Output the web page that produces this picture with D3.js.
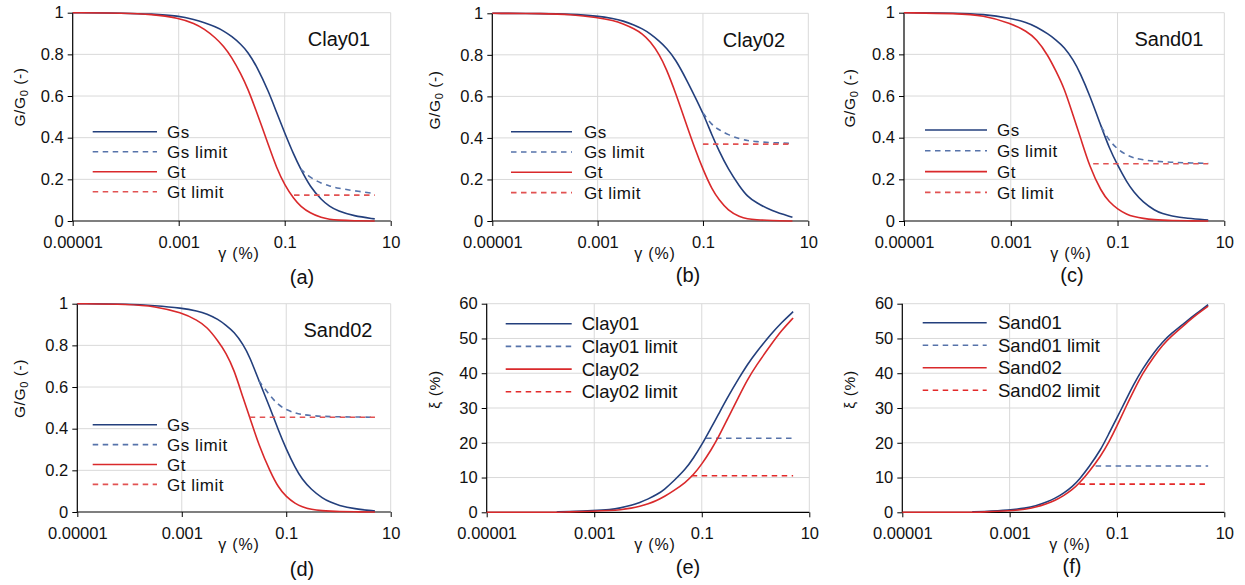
<!DOCTYPE html>
<html>
<head>
<meta charset="utf-8">
<script src="https://cdn.jsdelivr.net/npm/d3@7"></script>
<style>
  html, body { margin: 0; padding: 0; background: #fff; }
  svg { display: block; }
  text { font-family: "Liberation Sans", Arial, sans-serif; fill: #111; }
</style>
</head>
<body>
<svg id="chart" width="1245" height="585"></svg>
<script>
// ---------------- DATA ----------------
// shear strain (%) grid used for the G/G0 curves
const gammaG = [0.00001, 0.0001, 0.0003, 0.001, 0.002, 0.003, 0.005, 0.007, 0.01, 0.015, 0.02, 0.03, 0.05, 0.07, 0.1, 0.15, 0.2, 0.3, 0.5, 0.7, 1, 2, 5];

const clay01Gs = [1.0, 0.998, 0.994, 0.985, 0.967, 0.953, 0.932, 0.913, 0.887, 0.848, 0.813, 0.741, 0.62, 0.522, 0.423, 0.315, 0.25, 0.165, 0.1, 0.07, 0.048, 0.024, 0.01];
const clay01Gt = [1.0, 0.998, 0.993, 0.975, 0.948, 0.923, 0.879, 0.84, 0.787, 0.705, 0.638, 0.519, 0.361, 0.256, 0.172, 0.105, 0.07, 0.038, 0.015, 0.008, 0.004, 0.001, 0.0];
const clay01GsLimX = [0.2, 0.3, 0.5, 0.7, 1, 2, 5];
const clay01GsLim  = [0.25, 0.208, 0.18, 0.168, 0.158, 0.145, 0.132];
const clay01GtLimX = [0.15, 5];
const clay01GtLim  = [0.124, 0.124];

const clay02Gs = [1.0, 0.999, 0.996, 0.987, 0.975, 0.964, 0.943, 0.926, 0.902, 0.865, 0.835, 0.78, 0.675, 0.60, 0.52, 0.41, 0.34, 0.25, 0.165, 0.118, 0.09, 0.048, 0.018];
const clay02Gt = [1.0, 0.999, 0.995, 0.98, 0.965, 0.95, 0.925, 0.902, 0.865, 0.80, 0.735, 0.62, 0.455, 0.35, 0.248, 0.15, 0.104, 0.05, 0.02, 0.01, 0.006, 0.002, 0.0];
const clay02GsLimX = [0.1, 0.15, 0.2, 0.3, 0.5, 0.7, 1, 2, 5];
const clay02GsLim  = [0.52, 0.46, 0.44, 0.415, 0.395, 0.387, 0.382, 0.377, 0.374];
const clay02GtLimX = [0.1, 5];
const clay02GtLim  = [0.37, 0.37];

const sand01Gs = [1.0, 0.998, 0.993, 0.974, 0.953, 0.933, 0.898, 0.87, 0.835, 0.772, 0.71, 0.605, 0.45, 0.35, 0.268, 0.185, 0.14, 0.09, 0.05, 0.035, 0.024, 0.012, 0.005];
const sand01Gt = [1.0, 0.996, 0.988, 0.95, 0.91, 0.875, 0.795, 0.72, 0.64, 0.50, 0.405, 0.26, 0.139, 0.091, 0.057, 0.031, 0.021, 0.012, 0.006, 0.004, 0.002, 0.001, 0.0];
const sand01GsLimX = [0.05, 0.07, 0.1, 0.15, 0.2, 0.3, 0.5, 1, 2, 5];
const sand01GsLim  = [0.45, 0.385, 0.345, 0.315, 0.303, 0.293, 0.287, 0.282, 0.279, 0.277];
const sand01GtLimX = [0.035, 5];
const sand01GtLim  = [0.275, 0.275];

const sand02Gs = [1.0, 0.998, 0.991, 0.979, 0.965, 0.952, 0.925, 0.897, 0.865, 0.805, 0.745, 0.63, 0.495, 0.395, 0.302, 0.21, 0.158, 0.108, 0.065, 0.047, 0.032, 0.015, 0.005];
const sand02Gt = [1.0, 0.997, 0.988, 0.957, 0.92, 0.89, 0.82, 0.765, 0.685, 0.545, 0.455, 0.32, 0.19, 0.12, 0.072, 0.04, 0.025, 0.012, 0.006, 0.004, 0.002, 0.001, 0.0];
const sand02GsLimX = [0.03, 0.05, 0.07, 0.1, 0.15, 0.2, 0.3, 0.5, 1, 2, 5];
const sand02GsLim  = [0.63, 0.555, 0.515, 0.49, 0.475, 0.468, 0.463, 0.459, 0.457, 0.456, 0.455];
const sand02GtLimX = [0.02, 5];
const sand02GtLim  = [0.455, 0.455];

// shear strain (%) grid used for the damping curves
const gammaD = [0.00001, 0.0001, 0.0002, 0.0003, 0.001, 0.002, 0.003, 0.005, 0.007, 0.01, 0.015, 0.02, 0.03, 0.05, 0.07, 0.1, 0.15, 0.2, 0.3, 0.5, 0.7, 1, 2, 3, 5];
const clay01D = [null, null, 0.1, 0.2, 0.5, 0.8, 1.2, 2.0, 2.8, 3.8, 5.2, 6.5, 9.0, 12.4, 15.6, 19.4, 24.4, 27.9, 33.0, 38.8, 42.4, 45.8, 51.5, 54.5, 57.7];
const clay02D = [0, 0, 0, 0.1, 0.3, 0.5, 0.7, 1.2, 1.7, 2.4, 3.5, 4.5, 6.2, 8.6, 10.8, 13.8, 18.0, 21.3, 26.8, 33.6, 38.0, 42.0, 48.5, 52.2, 55.9];
const clay01DLimX = [0.12, 5];
const clay01DLim  = [21.3, 21.3];
const clay02DLimX = [0.065, 5];
const clay02DLim  = [10.5, 10.5];

const sand01D = [null, null, 0.1, 0.2, 0.6, 1.2, 1.8, 3.0, 4.0, 5.4, 7.5, 9.5, 13.0, 18.0, 22.5, 27.2, 32.6, 36.5, 41.3, 46.2, 48.9, 51.3, 55.0, 57.1, 59.7];
const sand02D = [0, 0, 0, 0.1, 0.4, 0.9, 1.4, 2.5, 3.4, 4.7, 6.6, 8.4, 11.6, 16.2, 20.0, 24.8, 30.7, 34.6, 40.0, 45.0, 48.0, 50.5, 54.5, 56.8, 59.3];
const sand01DLimX = [0.04, 5];
const sand01DLim  = [13.3, 13.3];
const sand02DLimX = [0.02, 5];
const sand02DLim  = [8.1, 8.1];

// ticks
const xTicks = [0.00001, 0.001, 0.1, 10];
const xTickLabels = ["0.00001", "0.001", "0.1", "10"];
const gTicks = [0, 0.2, 0.4, 0.6, 0.8, 1];
const gTickLabels = ["0", "0.2", "0.4", "0.6", "0.8", "1"];
const dTicks = [0, 10, 20, 30, 40, 50, 60];
const dTickLabels = ["0", "10", "20", "30", "40", "50", "60"];

const gLegend = ["Gs", "Gs limit", "Gt", "Gt limit"];
const captions = ["(a)", "(b)", "(c)", "(d)", "(e)", "(f)"];

// ---------------- STYLE / LAYOUT ----------------
const BLUE = "#233f7c", BLUE_D = "#5673aa", RED = "#d9292b", RED_D = "#e25252", RED_D2 = "#e32a2a";
const styles = [
  {color: BLUE, dash: null},
  {color: BLUE_D, dash: "5.5,4.5"},
  {color: RED, dash: null},
  {color: RED_D, dash: "5.5,4.5"}
];
const stylesD = [
  {color: BLUE, dash: null},
  {color: BLUE_D, dash: "5.5,4.5"},
  {color: RED, dash: null},
  {color: RED_D2, dash: "5.5,4.5"}
];

function zip(xs, ys) { return xs.map((x, i) => ({x, y: ys[i]})); }

const panels = [
  {box: [72.7, 12.7, 390.7, 221], type: "G", name: "Clay01", nameX: 339, ylabX: 24.5, ylabY: 97, xlabX: 239, capX: 302, capDy: 63,
   legend: {x0: 92.7, x1: 157, tx: 167, y0: 131.7, dy: 20, fs: 17},
   series: [zip(gammaG, clay01Gs), zip(clay01GsLimX, clay01GsLim), zip(gammaG, clay01Gt), zip(clay01GtLimX, clay01GtLim)], labels: gLegend},
  {box: [492.3, 13.3, 808.3, 221], type: "G", name: "Clay02", nameX: 754, ylabX: 439.5, ylabY: 100, xlabX: 655, capX: 688, capDy: 60.5,
   legend: {x0: 511, x1: 572, tx: 584, y0: 131.7, dy: 20.3, fs: 17},
   series: [zip(gammaG, clay02Gs), zip(clay02GsLimX, clay02GsLim), zip(gammaG, clay02Gt), zip(clay02GtLimX, clay02GtLim)], labels: gLegend},
  {box: [904, 12.7, 1224.3, 221], type: "G", name: "Sand01", nameX: 1169, ylabX: 854.5, ylabY: 98, xlabX: 1071, capX: 1072, capDy: 61,
   legend: {x0: 925, x1: 987, tx: 997, y0: 130, dy: 20.8, fs: 17},
   series: [zip(gammaG, sand01Gs), zip(sand01GsLimX, sand01GsLim), zip(gammaG, sand01Gt), zip(sand01GtLimX, sand01GtLim)], labels: gLegend},
  {box: [77.3, 303.7, 390.7, 512], type: "G", name: "Sand02", nameX: 338, ylabX: 24.5, ylabY: 388.5, xlabX: 239, capX: 302, capDy: 64,
   legend: {x0: 92.7, x1: 157, tx: 167, y0: 424.7, dy: 19.9, fs: 17},
   series: [zip(gammaG, sand02Gs), zip(sand02GsLimX, sand02GsLim), zip(gammaG, sand02Gt), zip(sand02GtLimX, sand02GtLim)], labels: gLegend},
  {box: [486.7, 303.7, 809.3, 512.3], type: "D", name: null, ylabX: 440, ylabY: 389.5, xlabX: 655, capX: 688, capDy: 62,
   legend: {x0: 505.7, x1: 571.7, tx: 581.7, y0: 323.7, dy: 22.7, fs: 18.5},
   series: [zip(gammaD, clay01D), zip(clay01DLimX, clay01DLim), zip(gammaD, clay02D), zip(clay02DLimX, clay02DLim)],
   labels: ["Clay01", "Clay01 limit", "Clay02", "Clay02 limit"]},
  {box: [902.3, 303.7, 1224.3, 512.3], type: "D", name: null, ylabX: 855, ylabY: 389.5, xlabX: 1070, capX: 1072, capDy: 61,
   legend: {x0: 922.7, x1: 986.7, tx: 998, y0: 322.7, dy: 22.5, fs: 18.5},
   series: [zip(gammaD, sand01D), zip(sand01DLimX, sand01DLim), zip(gammaD, sand02D), zip(sand02DLimX, sand02DLim)],
   labels: ["Sand01", "Sand01 limit", "Sand02", "Sand02 limit"]}
];

// ---------------- DRAW ----------------
const svg = d3.select("#chart");

panels.forEach((p, pi) => {
  const [L, T, R, B] = p.box;
  const isG = p.type === "G";
  const x = d3.scaleLog().domain([0.00001, 10]).range([L, R]);
  const y = d3.scaleLinear().domain(isG ? [0, 1] : [0, 60]).range([B, T]);
  const yt = isG ? gTicks : dTicks;
  const ytl = isG ? gTickLabels : dTickLabels;
  const sty = isG ? styles : stylesD;
  const g = svg.append("g");

  // gridlines
  g.append("g").selectAll("line").data(yt.filter(v => v !== 0)).join("line")
    .attr("x1", L).attr("x2", R).attr("y1", d => y(d)).attr("y2", d => y(d))
    .attr("stroke", "#d9d9d9").attr("stroke-width", 1);
  g.append("g").selectAll("line").data(xTicks.slice(1)).join("line")
    .attr("x1", d => x(d)).attr("x2", d => x(d)).attr("y1", T).attr("y2", B)
    .attr("stroke", "#d9d9d9").attr("stroke-width", 1);

  // axes
  const yAxis = d3.axisLeft(y).tickValues(yt).tickFormat((d, i) => ytl[i]).tickSize(5).tickPadding(4);
  const xAxis = d3.axisBottom(x).tickValues(xTicks).tickFormat((d, i) => xTickLabels[i]).tickSize(5).tickPadding(10);
  const ya = g.append("g").attr("transform", `translate(${L},0)`).call(yAxis);
  const xa = g.append("g").attr("transform", `translate(0,${B})`).call(xAxis);
  [ya, xa].forEach(a => {
    a.select(".domain").attr("stroke", "#000").attr("stroke-width", 1.2);
    a.selectAll(".tick line").attr("stroke", "#000");
    a.selectAll(".tick text").attr("font-size", 16.5).attr("fill", "#111")
      .attr("font-family", '"Liberation Sans", Arial, sans-serif');
  });
  ya.select(".domain").attr("d", `M0,${B}V${T}`);
  xa.select(".domain").attr("d", `M${L},0H${R}`);

  // curves
  const line = d3.line().defined(d => d.y !== null && d.y !== undefined)
    .x(d => x(d.x)).y(d => y(d.y)).curve(d3.curveBasis);
  p.series.forEach((s, si) => {
    g.append("path").datum(s).attr("d", line)
      .attr("fill", "none").attr("stroke", sty[si].color).attr("stroke-width", 1.6)
      .attr("stroke-dasharray", sty[si].dash);
  });

  // legend
  const lg = p.legend;
  p.labels.forEach((lab, i) => {
    const yy = lg.y0 + i * lg.dy;
    g.append("line").attr("x1", lg.x0).attr("x2", lg.x1).attr("y1", yy).attr("y2", yy)
      .attr("stroke", sty[i].color).attr("stroke-width", 1.6).attr("stroke-dasharray", sty[i].dash);
    g.append("text").attr("x", lg.tx).attr("y", yy).attr("dy", "0.36em")
      .attr("font-size", lg.fs).attr("letter-spacing", isG ? 0.5 : 0).text(lab);
  });

  // panel name
  if (p.name) {
    g.append("text").attr("x", p.nameX).attr("y", T + 33.5).attr("text-anchor", "middle")
      .attr("font-size", 20).text(p.name);
  }

  // y label
  const yl = g.append("text").attr("transform", `translate(${p.ylabX},${p.ylabY}) rotate(-90)`)
    .attr("text-anchor", "middle").attr("font-size", 15.5).attr("letter-spacing", 0.6);
  if (isG) {
    yl.append("tspan").text("G/G");
    yl.append("tspan").attr("dy", 3).attr("font-size", 11).text("0");
    yl.append("tspan").attr("dy", -3).text(" (-)");
  } else {
    yl.text("ξ (%)");
  }

  // x label
  g.append("text").attr("x", p.xlabX).attr("y", B + 38).attr("text-anchor", "middle")
    .attr("font-size", 16).attr("letter-spacing", 0.8).text("γ (%)");

  // caption
  g.append("text").attr("x", p.capX).attr("y", B + p.capDy).attr("text-anchor", "middle")
    .attr("font-size", 20).text(captions[pi]);
});
</script>
</body>
</html>
